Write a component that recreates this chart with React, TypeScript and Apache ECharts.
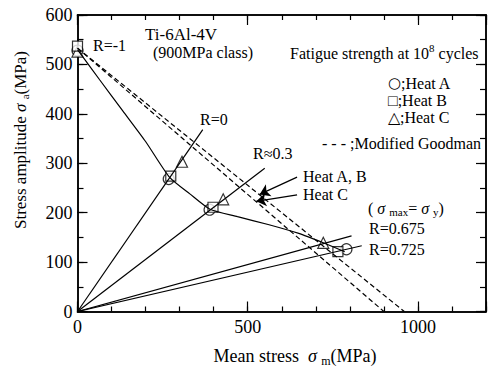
import React, { useEffect, useRef } from "react";
import * as echarts from "echarts";

// ---- data (MPa) ----
const curveFit: [number, number][] = [
  [0, 530], [65, 469], [133, 406], [200, 344], [270, 272], [330, 238], [389, 207],
  [470, 192], [560, 176], [650, 158], [722, 139], [785, 121],
];
const heatA: [number, number][] = [[0, 528], [268, 268], [388, 206], [790, 126]];
const heatB: [number, number][] = [[0, 537], [274, 274], [398, 211], [765, 121]];
const heatC: [number, number][] = [[0, 526], [307, 303], [428, 227], [722, 139]];
const lineR0: [number, number][] = [[0, 0], [368, 368]];
const lineR03: [number, number][] = [[0, 0], [550, 290]];
const lineR0675: [number, number][] = [[0, 0], [805, 153]];
const lineR0725: [number, number][] = [[0, 0], [835, 133]];
const goodmanAB: [number, number][] = [[0, 533], [960, 0]];
const goodmanC: [number, number][] = [[0, 533], [900, 0]];
const arrowAB: [number, number][] = [[645, 272], [535, 237]];
const arrowC: [number, number][] = [[645, 236], [525, 223]];
const xMajorLabels = [0, 500, 1000];

const FONT = "Liberation Serif";

export default function App() {
  const ref = useRef<HTMLDivElement>(null);
  useEffect(() => {
    document.body.style.margin = "0";
    const chart = echarts.init(ref.current!, null, { renderer: "svg" });
    const axisLineStyle = { color: "#000", width: 1.5 };
    const mkX = (pos: "bottom" | "top", interval: number, len: number, labels: boolean) => ({
      type: "value", position: pos, min: 0, max: 1200, interval,
      axisLine: { show: true, onZero: false, lineStyle: axisLineStyle },
      axisTick: { show: true, inside: true, length: len, lineStyle: { color: "#000", width: 1.2 } },
      axisLabel: labels ? {
        show: true, margin: 6, color: "#000", fontFamily: FONT, fontSize: 18,
        formatter: (v: number) => (xMajorLabels.includes(v) ? String(v) : ""),
      } : { show: false },
      splitLine: { show: false },
    });
    const mkY = (pos: "left" | "right", interval: number, len: number, labels: boolean) => ({
      type: "value", position: pos, min: 0, max: 600, interval,
      axisLine: { show: true, onZero: false, lineStyle: axisLineStyle },
      axisTick: { show: true, inside: true, length: len, lineStyle: { color: "#000", width: 1.2 } },
      axisLabel: labels ? { show: true, margin: 5, color: "#000", fontFamily: FONT, fontSize: 18 } : { show: false },
      splitLine: { show: false },
    });
    const lineS = (data: [number, number][], dashed = false) => ({
      type: "line", data, xAxisIndex: 0, yAxisIndex: 0, symbol: "none",
      lineStyle: { color: "#000", width: 1.2, type: dashed ? [5, 3] : "solid" },
      silent: true,
    });
    const scat = (data: [number, number][], symbol: string, size: number) => ({
      type: "scatter", data, symbol, symbolSize: size, xAxisIndex: 0, yAxisIndex: 0,
      itemStyle: { color: "#fff", borderColor: "#000", borderWidth: 1.2 },
    });
    const arrow = (pts: [number, number][]) => ({
      type: "line", data: [], xAxisIndex: 0, yAxisIndex: 0,
      markLine: {
        silent: true, animation: false, label: { show: false },
        symbol: ["none", "arrow"], symbolSize: [0, 9],
        lineStyle: { color: "#000", width: 1.2, type: "solid" },
        data: [[{ coord: pts[0], symbol: "none" }, { coord: pts[1], symbol: "arrow", symbolSize: 10 }]],
      },
    });
    const txt = (text: string, x: number, y: number, size = 16, extra: any = {}) => ({
      type: "text", x, y, style: { text, fill: "#000", font: `${size}px "${FONT}"`, textVerticalAlign: "middle", ...extra },
    });
    const sig = { fontFamily: FONT, fontStyle: "italic", fontSize: 17, fill: "#000" } as any;
    chart.setOption({
      animation: false,
      grid: { left: 77.5, top: 15, width: 413.5, height: 296.5 },
      xAxis: [
        mkX("bottom", 100, 5, false), mkX("bottom", 500, 10, true),
        mkX("top", 100, 5, false), mkX("top", 500, 10, false),
      ],
      yAxis: [
        mkY("left", 50, 6, false), mkY("left", 100, 10, true),
        mkY("right", 50, 6, false), mkY("right", 100, 10, false),
      ],
      series: [
        { ...lineS(curveFit), smooth: 0.2 },
        lineS(lineR0), lineS(lineR03), lineS(lineR0675), lineS(lineR0725),
        lineS(goodmanAB, true), lineS(goodmanC, true),
        arrow(arrowAB), arrow(arrowC),
        scat(heatA, "circle", 11), scat(heatC, "triangle", 11), scat(heatB, "rect", 10),
      ],
      graphic: [
        txt("R=-1", 93, 45),
        txt("Ti-6Al-4V", 145, 34, 17),
        txt("(900MPa class)", 153, 52),
        {
          type: "text", x: 290, y: 53,
          style: {
            text: "Fatigue strength at 10{sup|8} cycles", fill: "#000",
            font: `16px "${FONT}"`, textVerticalAlign: "middle",
            rich: { sup: { fontSize: 11, fontFamily: FONT, padding: [0, 0, 10, 0], fill: "#000" } },
          },
        },
        {
          type: "text", x: 388, y: 83,
          style: {
            text: "{c|○};Heat A", fill: "#000", font: `16px "${FONT}"`, textVerticalAlign: "middle",
            rich: { c: { fontSize: 15, fontFamily: "DejaVu Sans", fill: "#000" } },
          },
        },
        txt("□;Heat B", 388, 100),
        txt("△;Heat C", 388, 117),
        txt("- - - ;Modified Goodman", 322, 143),
        txt("R=0", 200, 119),
        txt("R≈0.3", 253, 153),
        txt("Heat A, B", 303, 176),
        txt("Heat C", 303, 194),
        {
          type: "text", x: 368, y: 208,
          style: {
            text: "( {s|σ} {sub|max}= {s|σ} {sub|y})", fill: "#000", font: `16px "${FONT}"`, textVerticalAlign: "middle",
            rich: {
              s: { ...sig, fontSize: 16 },
              sub: { fontFamily: FONT, fontSize: 11, padding: [8, 0, 0, 0], fill: "#000" },
            },
          },
        },
        txt("R=0.675", 369, 228),
        txt("R=0.725", 369, 249),
        {
          type: "text", x: 295, y: 356,
          style: {
            text: "Mean stress  {s|σ} {sub|m}(MPa)", fill: "#000", font: `18px "${FONT}"`,
            textAlign: "center", textVerticalAlign: "middle",
            rich: { s: { ...sig, fontSize: 18 }, sub: { fontFamily: FONT, fontSize: 12, padding: [9, 0, 0, 0], fill: "#000" } },
          },
        },
        {
          type: "text", x: 20, y: 140, rotation: Math.PI / 2,
          style: {
            text: "Stress amplitude {s|σ} {sub|a}(MPa)", fill: "#000", font: `17px "${FONT}"`,
            textAlign: "center", textVerticalAlign: "middle",
            rich: { s: sig, sub: { fontFamily: FONT, fontSize: 11, padding: [9, 0, 0, 0], fill: "#000" } },
          },
        },
      ],
    });
    return () => chart.dispose();
  }, []);
  return <div ref={ref} style={{ position: "fixed", left: 0, top: 0, width: 489, height: 369, background: "#fff" }} />;
}
